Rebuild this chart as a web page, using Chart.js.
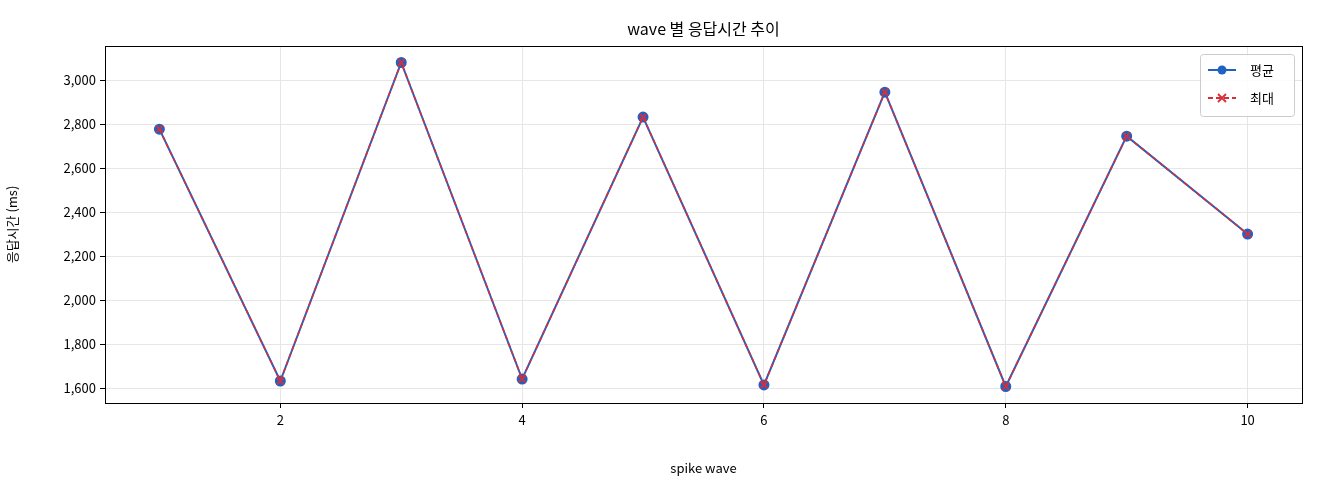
<!DOCTYPE html>
<html><head><meta charset="utf-8">
<script src="https://cdn.jsdelivr.net/npm/chart.js@4/dist/chart.umd.min.js"></script>
<style>html,body{margin:0;padding:0;background:#fff}#wrap{width:1320px;height:480px}</style>
</head><body><div id="wrap"><canvas id="c"></canvas></div>
<script>
const waves = [1,2,3,4,5,6,7,8,9,10];
const avgMs = [2777,1632,3080,1641,2832,1614,2945,1607,2745,2300];
const maxMs = [2777,1632,3080,1641,2832,1614,2945,1607,2745,2300];
const xTicks = [2,4,6,8,10];
const yTicks = [1600,1800,2000,2200,2400,2600,2800,3000];
const FONT = "'Noto Sans CJK KR', 'DejaVu Sans', sans-serif";
const BLUE = '#1f62c4', RED = '#d62f3a';

const deco = {
  id:'deco',
  afterDraw(chart){
    const {ctx, chartArea:a} = chart;
    ctx.save();
    ctx.strokeStyle='#000'; ctx.lineWidth=1;
    ctx.strokeRect(a.left+0.5,a.top+0.5,a.right-a.left,a.bottom-a.top);
    ctx.fillStyle='#000'; ctx.font='16px '+FONT; ctx.textAlign='center'; ctx.textBaseline='middle';
    ctx.fillText('wave 별 응답시간 추이',(a.left+a.right)/2,29);
    // legend
    const lx=1200, ly=54, lw=94, lh=62;
    ctx.fillStyle='rgba(255,255,255,0.85)'; ctx.strokeStyle='#ccc';
    ctx.beginPath(); ctx.roundRect(lx+0.5,ly+0.5,lw,lh,3); ctx.fill(); ctx.stroke();
    ctx.lineWidth=2;
    ctx.strokeStyle=BLUE; ctx.setLineDash([]);
    ctx.beginPath(); ctx.moveTo(lx+8,ly+16); ctx.lineTo(lx+36,ly+16); ctx.stroke();
    ctx.fillStyle=BLUE; ctx.beginPath(); ctx.arc(lx+22,ly+16,4.5,0,Math.PI*2); ctx.fill();
    ctx.strokeStyle=RED; ctx.setLineDash([5,3]);
    ctx.beginPath(); ctx.moveTo(lx+8,ly+44); ctx.lineTo(lx+36,ly+44); ctx.stroke();
    ctx.setLineDash([]); ctx.lineWidth=1.8;
    ctx.beginPath(); ctx.moveTo(lx+18,ly+40); ctx.lineTo(lx+26,ly+48); ctx.moveTo(lx+26,ly+40); ctx.lineTo(lx+18,ly+48); ctx.stroke();
    ctx.fillStyle='#000'; ctx.font='13px '+FONT; ctx.textAlign='left';
    ctx.fillText('평균',lx+50,ly+16); ctx.fillText('최대',lx+50,ly+44);
    ctx.restore();
  }
};

new Chart(document.getElementById('c'),{
  type:'line',
  data:{datasets:[
    {label:'최대',data:waves.map((w,i)=>({x:w,y:maxMs[i]})),borderColor:RED,backgroundColor:RED,borderDash:[5,3],borderWidth:1.6,pointStyle:'crossRot',pointRadius:5,pointBorderWidth:1.8,tension:0,order:0},
    {label:'평균',data:waves.map((w,i)=>({x:w,y:avgMs[i]})),borderColor:BLUE,backgroundColor:BLUE,borderWidth:2,pointStyle:'circle',pointRadius:4.5,tension:0,order:1}
  ]},
  options:{
    responsive:true,maintainAspectRatio:false,animation:false,
    layout:{padding:{top:46,right:18,left:0,bottom:0}},
    plugins:{legend:{display:false},title:{display:false},tooltip:{enabled:false}},
    scales:{
      x:{type:'linear',min:0.55,max:10.45,
        afterBuildTicks(s){s.ticks=xTicks.map(v=>({value:v}));},
        afterFit(s){s.height=77;},
        grid:{color:'#e6e6e6',tickColor:'#000',tickLength:5},border:{color:'#000'},
        ticks:{color:'#000',font:{family:FONT,size:13},padding:4},
        title:{display:true,text:'spike wave',color:'#000',font:{family:FONT,size:13},padding:{top:4}}},
      y:{min:1532,max:3155,
        afterBuildTicks(s){s.ticks=yTicks.map(v=>({value:v}));},
        afterFit(s){s.width=105;},
        grid:{color:'#e6e6e6',tickColor:'#000',tickLength:5},border:{color:'#000'},
        ticks:{color:'#000',font:{family:FONT,size:13},padding:4},
        title:{display:true,text:'응답시간 (ms)',color:'#000',font:{family:FONT,size:13},padding:{bottom:4}}}
    }
  },
  plugins:[deco]
});
</script></body></html>
